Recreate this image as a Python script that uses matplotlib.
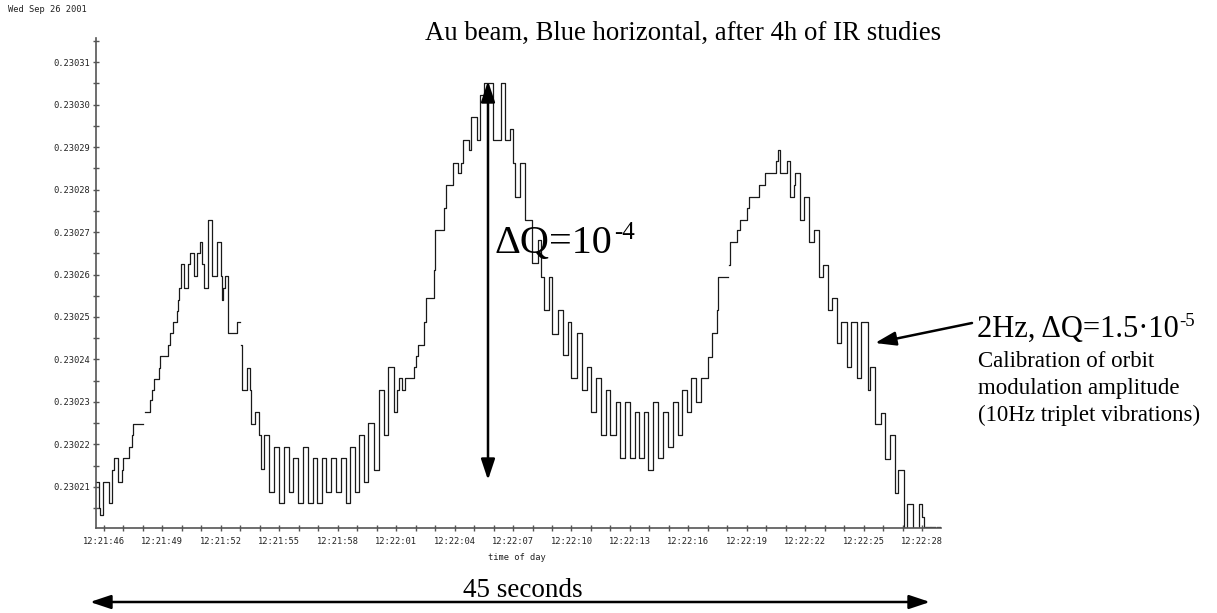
import numpy as np
import matplotlib
matplotlib.use("Agg")
import matplotlib.pyplot as plt
from matplotlib.ticker import MultipleLocator, FormatStrFormatter, FuncFormatter

plt.rcParams["font.family"] = "DejaVu Sans Mono"

# tune readout: step start times (seconds after 12:21:00) and tune above 0.2302 in units of 1e-5
t_sec = [
    45.59, 45.72, 45.78, 45.95, 46.25, 46.42, 46.52, 46.72, 46.90, 47.00,
    47.30, 47.42, 47.50, 48.02, 48.10, 48.38, 48.47, 48.55, 48.80, 48.85,
    49.30, 49.38, 49.52, 49.75, 49.80, 49.85, 49.95, 50.13, 50.33, 50.44,
    50.60, 50.76, 50.92, 51.05, 51.15, 51.35, 51.53, 51.80, 52.00, 52.06,
    52.13, 52.22, 52.38, 52.82, 52.99, 53.05, 53.08, 53.35, 53.50, 53.55,
    53.76, 53.96, 54.06, 54.23, 54.48, 54.74, 54.98, 55.26, 55.48, 55.72,
    55.98, 56.23, 56.47, 56.71, 56.95, 57.19, 57.41, 57.65, 57.90, 58.16,
    58.40, 58.64, 58.87, 59.11, 59.35, 59.57, 59.85, 60.12, 60.38, 60.58,
    60.88, 61.02, 61.12, 61.30, 61.45, 61.90, 62.00, 62.10, 62.45, 62.55,
    62.92, 63.00, 63.45, 63.55, 63.90, 64.15, 64.35, 64.42, 64.75, 64.85,
    65.15, 65.30, 65.50, 65.98, 66.38, 66.60, 66.82, 67.02, 67.12, 67.36,
    67.62, 67.98, 68.30, 68.45, 68.60, 68.84, 69.00, 69.30, 69.55, 69.82,
    69.98, 70.30, 70.55, 70.80, 71.00, 71.25, 71.50, 71.75, 72.00, 72.26,
    72.50, 72.76, 72.98, 73.24, 73.46, 73.70, 73.92, 74.20, 74.44, 74.72,
    74.95, 75.20, 75.45, 75.68, 75.93, 76.15, 76.37, 76.65, 77.00, 77.19,
    77.45, 77.54, 78.05, 78.07, 78.14, 78.50, 78.65, 79.00, 79.13, 79.62,
    79.95, 80.50, 80.60, 80.72, 81.08, 81.22, 81.42, 81.50, 81.72, 81.96,
    82.20, 82.43, 82.70, 82.92, 83.15, 83.38, 83.65, 83.85, 84.12, 84.35,
    84.64, 84.87, 85.20, 85.35, 85.60, 85.87, 86.10, 86.33, 86.60, 86.78,
    87.07, 87.24, 87.53, 87.83, 87.98, 88.12, 88.40, 88.48, 88.68, 88.78,
    88.90,
]
dq_e5 = [
    1.12, 0.50, 0.34, 1.12, 0.62, 1.40, 1.68, 1.12, 1.40, 1.68,
    1.93, 2.22, 2.48, np.nan, 2.76, 3.05, 3.28, 3.54, 3.81, 4.08,
    4.34, 4.62, 4.89, 5.13, 5.40, 5.68, 6.24, 5.68, 6.24, 6.50,
    5.96, 6.50, 6.76, 6.24, 5.68, 7.28, 5.96, 6.76, 5.96, 5.40,
    5.68, 5.96, 4.62, 4.89, np.nan, 4.34, 3.28, 3.81, 3.28, 2.48,
    2.76, 2.22, 1.42, 2.22, 0.89, 1.95, 0.62, 1.95, 0.89, 1.68,
    0.62, 1.95, 0.62, 1.68, 0.62, 1.68, 0.89, 1.68, 0.89, 1.68,
    0.62, 1.95, 0.89, 2.22, 1.12, 2.50, 1.40, 3.28, 2.22, 3.83,
    2.77, 3.28, 3.56, 3.28, 3.56, 3.83, 4.08, 4.34, 4.89, 5.44,
    6.10, 7.05, 7.56, 8.11, 8.63, 8.38, 8.63, 9.16, 8.93, 9.71,
    9.16, 10.22, 10.50, 9.16, 10.50, 9.16, 9.43, 8.62, 7.83, 8.62,
    7.28, 6.26, 6.81, 5.95, 5.16, 5.95, 4.61, 5.16, 4.10, 4.89,
    3.56, 4.62, 3.28, 3.83, 2.77, 3.56, 2.23, 3.28, 2.23, 3.00,
    1.68, 3.00, 1.68, 2.77, 1.68, 2.77, 1.40, 3.00, 1.68, 2.77,
    1.95, 3.00, 2.23, 3.28, 2.77, 3.56, 3.00, 3.56, 4.07, 4.62,
    5.17, 5.95, np.nan, 6.22, 6.77, 7.05, 7.28, 7.56, 7.83, 8.11,
    8.38, 8.66, 8.93, 8.38, 8.66, 7.83, 8.11, 8.38, 7.28, 7.83,
    6.77, 7.05, 5.95, 6.22, 5.17, 5.44, 4.38, 4.89, 3.83, 4.89,
    3.56, 4.89, 3.28, 3.83, 2.49, 2.73, 1.67, 2.22, 0.85, 1.40,
    0.04, 0.61, 0.04, 0.61, 0.30, 0.06, np.nan, 0.06, np.nan, 0.06,
    0.06,
]

q_base = 0.2302
q = q_base + np.array(dq_e5) * 1e-5

W, H = 1217, 613
fig = plt.figure(figsize=(W / 100, H / 100), dpi=100)
ax = fig.add_axes([96 / W, 1 - 528 / H, 845 / W, 490 / H])

ax.step(t_sec, q, where="post", color="#1a1a1a", lw=0.9)

ax.set_xlim(45.59, 88.97)
ax.set_ylim(q_base + 0.035e-5, q_base + 11.565e-5)

for side in ["top", "right"]:
    ax.spines[side].set_visible(False)
for side in ["left", "bottom"]:
    ax.spines[side].set_color("#555555")
    ax.spines[side].set_linewidth(1.2)

ax.yaxis.set_major_locator(MultipleLocator(1e-5))
ax.yaxis.set_minor_locator(MultipleLocator(0.5e-5))
ax.yaxis.set_major_formatter(FormatStrFormatter("%.5f"))
ax.xaxis.set_major_locator(MultipleLocator(3, offset=1))
ax.xaxis.set_minor_locator(MultipleLocator(1))


def clock(s, pos):
    s = int(round(s))
    return f"12:{21 + s // 60}:{s % 60:02d}"


ax.xaxis.set_major_formatter(FuncFormatter(clock))
ax.tick_params(which="both", direction="inout", length=5, width=1, color="#555555")
ax.tick_params(axis="x", labelsize=6.3, pad=4, labelcolor="#222222")
ax.tick_params(axis="y", labelsize=6.3, pad=2, labelcolor="#222222")


def px(x, y):
    return (x / W, 1 - y / H)


serif = "Liberation Serif"
renderer = fig.canvas.get_renderer()


def with_power(x, y, main, power, size):
    # main text plus a raised exponent, as in the hand-made annotation
    t = fig.text(*px(x, y), main, family=serif, fontsize=size, va="baseline")
    right = t.get_window_extent(renderer=renderer).x1
    lift = 0.36 * size * 100 / 72
    fig.text((right + 1) / W, (H - y + lift) / H, power, family=serif,
             fontsize=size * 0.62, va="baseline")


fig.text(*px(8, 9), "Wed Sep 26 2001", fontsize=6.3, va="center", color="#222222")
fig.text(*px(517, 558), "time of day", fontsize=6.3, ha="center", va="center", color="#222222")
fig.text(*px(425, 40), "Au beam, Blue horizontal, after 4h of IR studies",
         family=serif, fontsize=19.3, va="baseline")
with_power(495, 253, "ΔQ=10", "-4", 29)
with_power(977, 337, "2Hz, ΔQ=1.5·10", "-5", 22)
notes = ["Calibration of orbit", "modulation amplitude", "(10Hz triplet vibrations)"]
for i, line in enumerate(notes):
    fig.text(*px(978, 367 + 27 * i), line, family=serif, fontsize=16.5, va="baseline")
fig.text(*px(523, 597), "45 seconds", family=serif, fontsize=19.5, ha="center", va="baseline")

arrow_kw = dict(color="black", lw=1.8, shrinkA=0, shrinkB=0, mutation_scale=14)
ax.annotate("", xy=px(488, 81), xytext=px(488, 480), xycoords="figure fraction",
            textcoords="figure fraction", annotation_clip=False,
            arrowprops=dict(arrowstyle="<|-|>,head_length=0.9,head_width=0.3", **arrow_kw))
ax.annotate("", xy=px(90, 602), xytext=px(930, 602), xycoords="figure fraction",
            textcoords="figure fraction", annotation_clip=False,
            arrowprops=dict(arrowstyle="<|-|>,head_length=0.9,head_width=0.3", **arrow_kw))
ax.annotate("", xy=px(875, 343), xytext=px(972, 323), xycoords="figure fraction",
            textcoords="figure fraction", annotation_clip=False,
            arrowprops=dict(arrowstyle="-|>,head_length=0.9,head_width=0.3", **arrow_kw))

fig.savefig("out.png", dpi=100)
